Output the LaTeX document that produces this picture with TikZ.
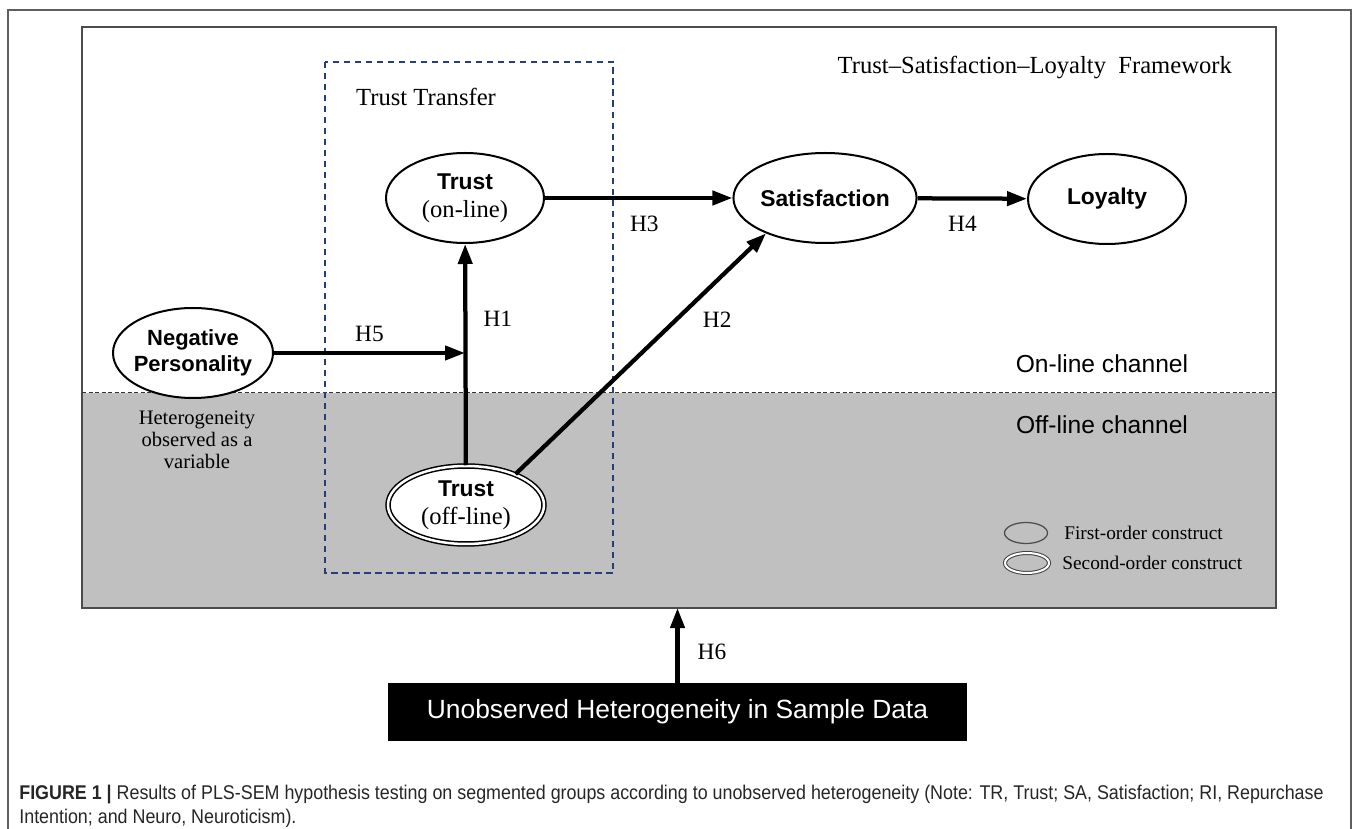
\documentclass[tikz,border=0pt]{standalone}
\usepackage{fontspec}
\setmainfont{Liberation Serif}
\setsansfont{Liberation Sans}
\newfontfamily\capfont[FakeStretch=0.9]{Liberation Sans}
\usetikzlibrary{arrows.meta,shapes.geometric,positioning}
\definecolor{panelgray}{RGB}{192,192,192}
\definecolor{boxblue}{RGB}{40,62,120}
\definecolor{framegray}{RGB}{95,95,95}

\begin{document}
\begin{tikzpicture}[
  construct/.style={ellipse, draw, line width=0.4mm, fill=white, minimum width=3.16cm, minimum height=1.8cm, inner sep=0pt, align=center, font=\sffamily\bfseries\fontsize{13}{16}\selectfont},
  secondorder/.style={construct, double, double distance=0.5mm, line width=0.3mm, minimum width=3.12cm, minimum height=1.56cm},
  arr/.style={line width=0.85mm, -{Triangle[length=4mm,width=2.8mm]}},
  hyp/.style={font=\fontsize{13.3}{15}\selectfont, inner sep=0pt},
  channel/.style={font=\sffamily\fontsize{14}{16}\selectfont},
  serif/.style={font=\fontsize{14}{16}\selectfont},
  legendtext/.style={font=\fontsize{11}{13}\selectfont, anchor=west, inner sep=0pt}
]
\useasboundingbox (0,0) rectangle (27.16,-16.58);
\draw[framegray, line width=0.3mm] (0.16,-16.8) |- (27.02,-0.2) -- (27.02,-16.8);
\fill[panelgray] (1.64,-7.86) rectangle (25.52,-12.16);
\draw[black!70, line width=0.3mm] (1.64,-0.54) rectangle (25.52,-12.16);
\draw[black!80, line width=0.2mm, dash pattern=on 0.8mm off 0.5mm] (1.64,-7.86) -- (25.52,-7.86);
\draw[boxblue, line width=0.3mm, dash pattern=on 1.3mm off 0.9mm] (6.5,-1.24) rectangle (12.26,-11.46);

\node[serif, anchor=west] (transfer) at (7.0,-1.94) {Trust Transfer};
\node[serif, anchor=east] (framework) at (24.76,-1.34) {Trust--Satisfaction--Loyalty\ \ Framework};

\node[construct] (tron) at (9.3,-3.96) {Trust\\{\rmfamily\mdseries\fontsize{14}{16}\selectfont (on-line)}};
\node[construct] (sat) at (16.5,-3.96) {Satisfaction};
\node[construct] (loy) at (22.14,-3.98) {Loyalty};
\node[construct, minimum width=3.2cm, inner xsep=-1mm, font=\sffamily\bfseries\fontsize{12.5}{15}\selectfont] (neg) at (3.86,-7.06) {Negative\\Personality};
\node[secondorder] (troff) at (9.32,-10.1) {Trust\\{\rmfamily\mdseries\fontsize{14}{16}\selectfont (off-line)}};
\coordinate (h5end) at (9.3,-7.06);

\draw[arr] (troff) -- (tron) node[hyp, pos=0.66, right=3.2mm] (lh1) {H1};
\draw[arr] (neg) -- (h5end) node[hyp, pos=0.5, above=1.8mm] (lh5) {H5};
\draw[arr] (tron) -- (sat) node[hyp, pos=0.53, below=3.2mm] (lh3) {H3};
\draw[arr] (sat) -- (loy) node[hyp, pos=0.41, below=3.2mm] (lh4) {H4};
\draw[arr] (troff.32) -- (sat.211) node[hyp, pos=0.64, right=5mm] (lh2) {H2};

\node[channel] (online) at (22.04,-7.28) {On-line channel};
\node[channel] (offline) at (22.04,-8.5) {Off-line channel};
\node[align=center, font=\fontsize{11.7}{12.5}\selectfont] (hetero) at (3.94,-8.8) {Heterogeneity\\observed as a\\variable};

\node[ellipse, draw=black!70, line width=0.25mm, minimum width=0.86cm, minimum height=0.42cm, inner sep=0pt] (keyfirst) at (20.52,-10.66) {};
\node[legendtext] (keyfirsttext) at (21.28,-10.66) {First-order construct};
\node[ellipse, draw=black!75, double, double distance=0.4mm, line width=0.2mm, minimum width=0.88cm, minimum height=0.4cm, inner sep=0pt] (keysecond) at (20.54,-11.26) {};
\node[legendtext] (keysecondtext) at (21.24,-11.26) {Second-order construct};

\coordinate (h6end) at (13.55,-12.16);
\node[fill=black, text=white, font=\sffamily\fontsize{15}{17}\selectfont, minimum width=11.58cm, minimum height=1.16cm] (data) at (13.55,-14.24) {Unobserved Heterogeneity in Sample Data};
\draw[arr] (data) -- (h6end) node[hyp, pos=0.41, right=3.6mm] (lh6) {H6};

\node[anchor=north west, align=left, inner sep=0pt, text=black!85, font=\capfont\fontsize{11.3}{13.7}\selectfont] (caption) at (0.38,-15.7) {{\bfseries FIGURE 1 |} Results of PLS-SEM hypothesis testing on segmented groups according to unobserved heterogeneity (Note: TR, Trust; SA, Satisfaction; RI, Repurchase\\Intention; and Neuro, Neuroticism).};
\end{tikzpicture}
\end{document}
